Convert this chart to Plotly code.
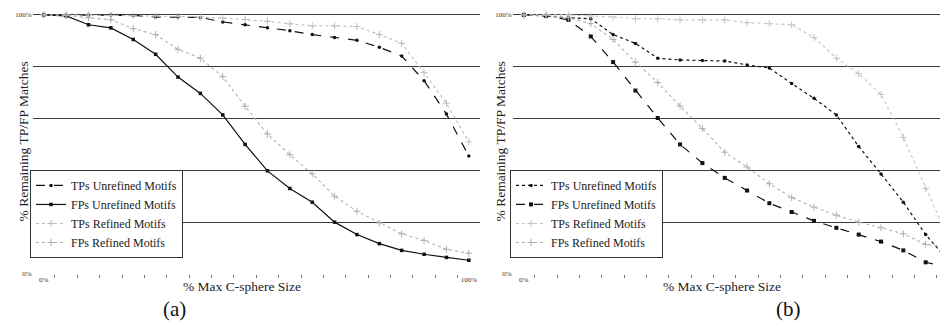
import plotly.graph_objects as go

# ---------------- data ----------------
size_steps = [0, 1, 2, 3, 4, 5, 6, 7, 8, 9, 10, 11, 12, 13, 14, 15, 16, 17, 18, 19]
x_tick_pos = [0, 19]
x_tick_labels = ["0%", "100%"]
y_tick_pos = [0, 100]
y_tick_labels = ["0%", "100%"]
y_grid_vals = [20, 40, 60, 80, 100]

series_names = ["TPs Unrefined Motifs", "FPs Unrefined Motifs",
                "TPs Refined Motifs", "FPs Refined Motifs"]

# panel (a)
a_tp_unref = [100, 100, 100, 100, 99.8, 99.2, 99.2, 99.0, 97.3, 96.2,
              95.0, 93.9, 92.4, 91.3, 90.2, 87.5, 84.1, 74.6, 61.7, 45.5]
a_fp_unref = [100, 99.6, 96.2, 95.0, 90.5, 84.8, 76.0, 69.7, 61.4, 50.0,
              39.8, 33.0, 27.7, 20.0, 15.2, 11.7, 9.1, 7.6, 6.4, 5.3]
a_tp_ref = [100, 100, 100, 99.8, 99.7, 99.6, 99.4, 99.2, 98.8, 98.2,
            97.5, 96.6, 95.8, 95.8, 95.5, 92.4, 89.0, 77.7, 65.9, 51.0]
a_fp_ref = [100, 99.8, 98.9, 98.1, 94.7, 92.4, 86.7, 83.3, 76.1, 64.7,
            54.0, 46.0, 38.6, 30.0, 24.2, 19.7, 15.5, 12.9, 9.5, 8.0]

# panel (b)
b_tp_unref = [100, 99.6, 98.9, 98.5, 92.4, 89.0, 83.3, 82.6, 82.4, 82.2,
              80.7, 79.5, 73.5, 67.8, 61.4, 49.2, 38.6, 27.7, 15.2, 5.3]
b_fp_unref = [100, 99.6, 98.1, 91.7, 81.8, 70.8, 60.2, 50.0, 42.8, 37.1,
              32.2, 27.3, 23.9, 20.5, 17.8, 15.2, 12.5, 9.1, 4.5, 2.7]
b_tp_ref = [100, 100, 100, 99.6, 99.2, 98.5, 98.5, 98.1, 98.1, 98.1,
            97.0, 96.6, 96.2, 91.3, 83.3, 77.3, 69.3, 52.7, 33.0, 14.0]
b_fp_ref = [100, 99.8, 98.9, 96.6, 90.5, 81.8, 73.9, 64.8, 56.2, 47.0,
            41.3, 34.8, 29.5, 25.8, 22.7, 20.0, 17.8, 15.5, 11.4, 10.6]

# ---------------- geometry ----------------
# the page body has an 8px margin, so the figure sits at (8, 8) in the window
OX, OY = 8, 8
W, H = 940, 320
SERIF = "Liberation Serif"


def fx(px):
    return (px - OX) / W


def fy(py):
    return 1 - (py - OY) / H


# ---------------- styling ----------------
styles_a = [
    dict(line=dict(color="#111111", width=1.2, dash="dash"),
         marker=dict(symbol="circle", size=3.5, color="#111111")),
    dict(line=dict(color="#111111", width=1.2, dash="solid"),
         marker=dict(symbol="square", size=3.5, color="#111111")),
    dict(line=dict(color="#bdbdbd", width=1.1, dash="dot"),
         marker=dict(symbol="cross-thin", size=5, color="#bdbdbd",
                     line=dict(color="#bdbdbd", width=1))),
    dict(line=dict(color="#b0b0b0", width=1.1, dash="dot"),
         marker=dict(symbol="cross-thin", size=5, color="#b0b0b0",
                     line=dict(color="#b0b0b0", width=1))),
]
styles_b = [
    dict(line=dict(color="#111111", width=1.2, dash="dot"),
         marker=dict(symbol="circle", size=3.5, color="#111111")),
    dict(line=dict(color="#111111", width=1.2, dash="dash"),
         marker=dict(symbol="square", size=4, color="#111111")),
    dict(line=dict(color="#c4c4c4", width=1.1, dash="dot"),
         marker=dict(symbol="cross-thin", size=5, color="#c4c4c4",
                     line=dict(color="#c4c4c4", width=1))),
    dict(line=dict(color="#b0b0b0", width=1.1, dash="dot"),
         marker=dict(symbol="cross-thin", size=5, color="#b0b0b0",
                     line=dict(color="#b0b0b0", width=1))),
]

fig = go.Figure()

for name, vals, st in zip(series_names, [a_tp_unref, a_fp_unref, a_tp_ref, a_fp_ref], styles_a):
    fig.add_trace(go.Scatter(x=size_steps, y=vals, name=name, mode="lines+markers",
                             xaxis="x", yaxis="y", legend="legend", cliponaxis=False, **st))
for name, vals, st in zip(series_names, [b_tp_unref, b_fp_unref, b_tp_ref, b_fp_ref], styles_b):
    fig.add_trace(go.Scatter(x=size_steps, y=vals, name=name, mode="lines+markers",
                             xaxis="x2", yaxis="y2", legend="legend2", cliponaxis=False, **st))

tickfont = dict(family=SERIF, size=7, color="#333333")
boundaries = [k + 0.5 for k in size_steps[:-1]]

# y: 0% at window y=277, 100% at y=13 (2.64 px per %)
y_top_px = 277 - 100.6 * 2.64


def xax(domain, rng):
    return dict(domain=domain, range=rng, showgrid=False, zeroline=False, showline=False,
                tickmode="array", tickvals=x_tick_pos, ticktext=x_tick_labels,
                ticks="", tickfont=tickfont,
                minor=dict(tickmode="array", tickvals=boundaries, ticks="outside",
                           ticklen=3, tickwidth=1, tickcolor="#777777", showgrid=False))


def yax(anchor):
    return dict(domain=[fy(277), fy(y_top_px)], range=[0, 100.6], anchor=anchor,
                showgrid=False, zeroline=False, showline=False,
                tickmode="array", tickvals=y_tick_pos, ticktext=y_tick_labels,
                ticks="", tickfont=tickfont,
                minor=dict(tickmode="array", tickvals=y_grid_vals, showgrid=True,
                           gridcolor="#3c3c3c", gridwidth=1.3, ticks=""))


leg_common = dict(xanchor="left", yanchor="top", y=fy(171), bgcolor="white",
                  bordercolor="#333333", borderwidth=1, tracegroupgap=0,
                  font=dict(family=SERIF, size=12, color="#222222"))

title_font = dict(family=SERIF, size=13.5, color="#222222")


def note(text, px, py, font, angle=0):
    return dict(text=text, x=fx(px), y=fy(py), xref="paper", yref="paper",
                xanchor="center", yanchor="middle", showarrow=False,
                textangle=angle, font=font)


fig.update_layout(
    width=W, height=H,
    margin=dict(l=0, r=0, t=0, b=0),
    paper_bgcolor="white", plot_bgcolor="white",
    xaxis=xax([fx(32.6), fx(480.0)], [-0.5, 19.5]),
    xaxis2=xax([fx(512.6), 1.0], [-0.5, 19.0]),
    yaxis=yax("x"),
    yaxis2=yax("x2"),
    legend=dict(x=fx(30), **leg_common),
    legend2=dict(x=fx(510), **leg_common),
    annotations=[
        note("% Remaining TP/FP Matches", 23, 142, title_font, -90),
        note("% Remaining TP/FP Matches", 500, 142, title_font, -90),
        note("% Max C-sphere Size", 242, 290, title_font),
        note("% Max C-sphere Size", 722, 290, title_font),
        note("(a)", 174, 313, dict(family=SERIF, size=21, color="#111111")),
        note("(b)", 788, 313, dict(family=SERIF, size=21, color="#111111")),
    ],
)

fig.write_html("out.html")
